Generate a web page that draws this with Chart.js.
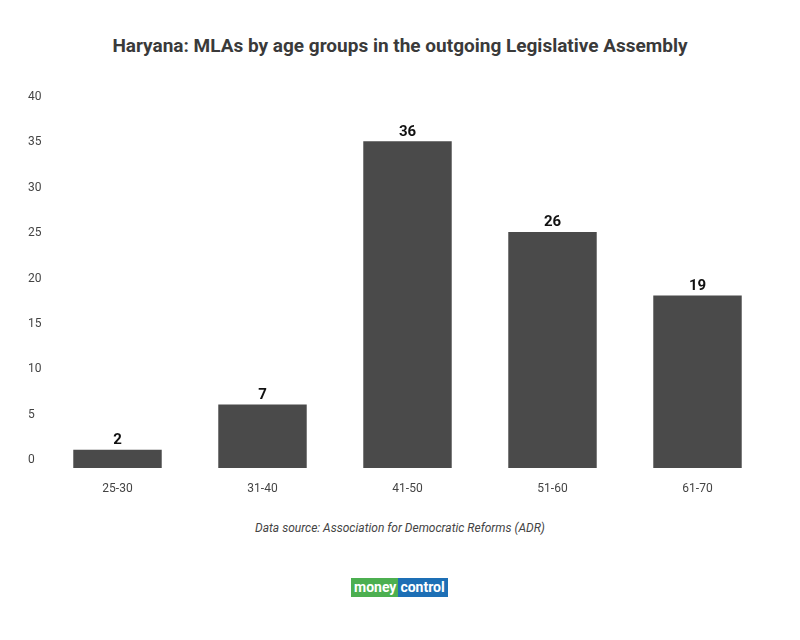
<!DOCTYPE html>
<html><head><meta charset="utf-8">
<script src="https://cdn.jsdelivr.net/npm/chart.js@4"></script>
<style>
body{margin:0;width:800px;height:640px;background:#fff;font-family:Roboto,sans-serif;position:relative;overflow:hidden}
#t{position:absolute;top:34px;left:0;width:800px;text-align:center;font-size:19px;font-weight:bold;color:#3a3a3a}
#c{position:absolute;top:0;left:0}
#s{position:absolute;top:521px;left:0;width:800px;text-align:center;font-size:12px;font-style:italic;color:#444}
#logo{position:absolute;top:578px;left:351px;width:99px;height:19px;display:flex;font-size:14px;font-weight:bold;line-height:19px}
#logo .a{background:#4caf50;color:#fff;padding:0 2px 0 3px}
#logo .b{background:#1d6fb5;color:#fff;padding:0 3px 0 2px}
</style></head><body>
<div id="t">Haryana: MLAs by age groups in the outgoing Legislative Assembly</div>
<canvas id="c" width="800" height="500"></canvas>
<div id="s">Data source: Association for Democratic Reforms (ADR)</div>
<div id="logo"><span class="a">money</span><span class="b">control</span></div>
<script>
const categories=["25-30","31-40","41-50","51-60","61-70"];
const values=[2,7,36,26,19];
const labelPlugin={id:'lbl',afterDatasetsDraw(ch){const c=ch.ctx;const m=ch.getDatasetMeta(0);c.save();c.font='bold 15px Roboto';c.fillStyle='#111';c.textAlign='center';c.textBaseline='bottom';m.data.forEach((b,i)=>c.fillText(values[i],b.x,b.y-2));c.restore();}};
new Chart(document.getElementById('c'),{type:'bar',
data:{labels:categories,datasets:[{data:values,backgroundColor:'#4a4a4a',barPercentage:0.61,categoryPercentage:1}]},
options:{responsive:false,animation:false,
layout:{padding:{left:28,right:30,top:105,bottom:0}},
plugins:{legend:{display:false},tooltip:{enabled:false}},
scales:{
x:{grid:{display:false},border:{display:false},ticks:{color:'#444',font:{family:'Roboto',size:12},padding:6},afterFit(s){s.height=32;}},
y:{min:0,max:40,grid:{display:false},border:{display:false},ticks:{stepSize:5,color:'#444',font:{family:'Roboto',size:12},crossAlign:'far',labelOffset:-8,padding:0},afterFit(s){s.width=17;}}
}},plugins:[labelPlugin]});
</script>
</body></html>
